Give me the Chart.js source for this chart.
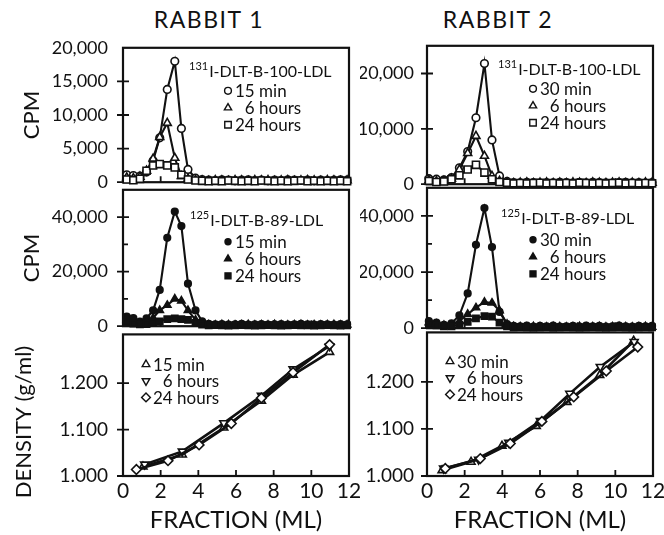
<!DOCTYPE html>
<html>
<head>
<meta charset="utf-8">
<title>Rabbit LDL density gradient</title>
<script src="https://cdn.jsdelivr.net/npm/chart.js@4.4.1/dist/chart.umd.min.js"></script>
<style>
  body { margin: 0; background: #fff; }
  #wrap { position: relative; width: 664px; height: 535px; overflow: hidden; font-family: Lato, sans-serif; color: #111; }
  #wrap canvas { position: absolute; }
  .rabbit { position: absolute; top: 5px; width: 140px; text-align: center; font-size: 23px; letter-spacing: 1.5px; }
</style>
</head>
<body>
<div id="wrap">
  <div class="rabbit" style="left:139px">RABBIT 1</div>
  <div class="rabbit" style="left:428px">RABBIT 2</div>
  <canvas id="r1top" width="360" height="170" style="left:0;top:30px"></canvas>
  <canvas id="r2top" width="304" height="170" style="left:360px;top:30px"></canvas>
  <canvas id="r1mid" width="360" height="172" style="left:0;top:172px"></canvas>
  <canvas id="r2mid" width="304" height="172" style="left:360px;top:172px"></canvas>
  <canvas id="r1bot" width="360" height="219" style="left:0;top:316px"></canvas>
  <canvas id="r2bot" width="304" height="219" style="left:360px;top:316px"></canvas>
</div>
<script>
// fraction (ml) of each collected tube
const FRAC_R1 = [0.2, 0.55, 0.9, 1.25, 1.6, 1.95, 2.35, 2.75, 3.1, 3.45, 3.85, 4.2, 4.55, 4.9, 5.25, 5.6, 5.95,
  6.3, 6.65, 7.0, 7.35, 7.7, 8.05, 8.4, 8.75, 9.1, 9.45, 9.8, 10.15, 10.5, 10.85, 11.2, 11.55, 11.9];
const FRAC_R2 = [0.1, 0.5, 0.9, 1.3, 1.72, 2.16, 2.6, 3.05, 3.45, 3.85, 4.25, 4.6, 4.95, 5.3, 5.65, 6.0, 6.35,
  6.7, 7.05, 7.4, 7.75, 8.1, 8.45, 8.8, 9.15, 9.5, 9.85, 10.2, 10.55, 10.9, 11.25, 11.6, 11.95];

// rabbit 1, 131I-DLT-B-100-LDL (cpm)
const R1_I131_15MIN = [1100, 1000, 900, 1500, 3200, 6600, 13800, 18000, 8000, 1900, 600, 400,
  300, 250, 350, 300, 200, 300, 350, 250, 300, 200, 300, 250, 350, 300, 250, 300, 200, 300, 250, 300, 350, 300];
const R1_I131_6H = [700, 600, 800, 1700, 3500, 6700, 8800, 3600, 900, 500, 300, 250,
  200, 300, 250, 200, 300, 250, 200, 300, 250, 300, 200, 250, 300, 200, 250, 300, 250, 200, 300, 250, 200, 250];
const R1_I131_24H = [400, 300, 500, 1700, 2500, 2700, 2500, 2200, 1100, 400, 250, 200,
  150, 200, 150, 250, 200, 150, 200, 150, 250, 200, 150, 200, 150, 200, 250, 150, 200, 150, 200, 150, 200, 150];

// rabbit 1, 125I-DLT-B-89-LDL (cpm)
const R1_I125_15MIN = [3500, 3000, 1700, 2900, 5800, 13300, 32400, 42000, 36700, 15600, 5800, 1800,
  900, 700, 800, 600, 700, 900, 600, 700, 800, 600, 700, 800, 600, 700, 900, 700, 600, 800, 700, 600, 800, 700];
const R1_I125_6H = [2500, 1500, 1000, 1500, 3000, 5800, 7700, 10000, 9300, 5800, 2300, 1000,
  500, 400, 600, 500, 400, 500, 600, 400, 500, 400, 600, 500, 400, 500, 600, 400, 500, 400, 500, 600, 400, 500];
const R1_I125_24H = [1500, 1000, 700, 800, 1200, 1800, 2600, 2900, 2600, 2300, 1200, 600,
  300, 400, 300, 200, 300, 400, 300, 200, 300, 400, 300, 200, 300, 400, 300, 300, 200, 300, 400, 300, 200, 300];

// rabbit 2, 131I-DLT-B-100-LDL (cpm)
const R2_I131_30MIN = [1000, 900, 800, 1200, 2950, 5900, 12000, 21800, 8000, 1500, 500,
  300, 250, 350, 300, 200, 300, 250, 350, 300, 200, 300, 250, 350, 300, 250, 200, 300, 350, 250, 300, 200, 300];
const R2_I131_6H = [700, 500, 600, 1000, 2650, 5600, 8700, 5100, 1500, 600, 300,
  200, 250, 300, 200, 250, 300, 200, 250, 200, 300, 250, 200, 300, 250, 200, 250, 300, 200, 250, 200, 300, 250];
const R2_I131_24H = [600, 400, 500, 900, 1600, 2650, 3500, 2100, 900, 400, 250,
  150, 200, 150, 200, 250, 150, 200, 150, 200, 150, 250, 200, 150, 200, 150, 200, 250, 150, 200, 150, 200, 150];

// rabbit 2, 125I-DLT-B-89-LDL (cpm)
const R2_I125_30MIN = [2500, 2000, 1200, 1700, 4600, 12400, 29700, 42800, 28900, 5800, 1500,
  800, 700, 900, 600, 800, 700, 900, 600, 700, 800, 600, 900, 700, 800, 600, 700, 900, 700, 600, 800, 700, 800];
const R2_I125_6H = [2000, 1500, 1000, 1000, 2500, 5000, 7300, 9300, 9000, 6300, 1500,
  600, 500, 400, 600, 500, 400, 600, 500, 400, 500, 600, 400, 500, 600, 400, 500, 600, 500, 400, 500, 600, 400];
const R2_I125_24H = [1500, 1000, 700, 700, 1200, 2300, 3500, 4300, 4100, 2000, 700,
  300, 400, 300, 200, 300, 400, 200, 300, 400, 300, 200, 300, 400, 300, 200, 300, 400, 300, 200, 300, 400, 300];

// density (g/ml) of the gradient
const R1_DENS_15MIN_X = [1.06, 3.15, 5.35, 7.35, 9.03, 10.97];
const R1_DENS_15MIN_Y = [1.020, 1.046, 1.104, 1.162, 1.218, 1.267];
const R1_DENS_6H_X = [1.15, 3.15, 5.35, 7.35, 9.03, 10.97];
const R1_DENS_6H_Y = [1.025, 1.053, 1.114, 1.173, 1.230, 1.280];
const R1_DENS_24H_X = [0.71, 2.39, 4.04, 5.75, 7.35, 9.03, 10.97];
const R1_DENS_24H_Y = [1.014, 1.033, 1.067, 1.113, 1.168, 1.223, 1.283];

const R2_DENS_30MIN_X = [0.8, 2.34, 3.98, 5.8, 7.43, 9.17, 10.97];
const R2_DENS_30MIN_Y = [1.012, 1.030, 1.064, 1.106, 1.157, 1.214, 1.287];
const R2_DENS_6H_X = [0.88, 2.74, 4.34, 6.02, 7.58, 9.2, 11.0];
const R2_DENS_6H_Y = [1.016, 1.035, 1.071, 1.117, 1.175, 1.232, 1.285];
const R2_DENS_24H_X = [0.97, 2.83, 4.42, 6.1, 7.79, 9.52, 11.19];
const R2_DENS_24H_Y = [1.016, 1.037, 1.069, 1.116, 1.168, 1.223, 1.274];

const X_TICKS = [2, 4, 6, 8, 10];
const INK = '#111';

Chart.defaults.font.family = 'Lato, sans-serif';
Chart.defaults.color = INK;

const COLS = {
  left: { yWidth: 123, padRight: 11 },
  right: { yWidth: 67, padRight: 11 }
};
const ROWS = {
  top: { padTop: 14, padBottom: 14 },
  mid: { padTop: 14, padBottom: 14 },
  bot: { padTop: 14, padBottom: 0, xHeight: 59 }
};

// marker look per point style
const MARKS = {
  circle: { pointStyle: 'circle', open: 3.8, filled: 3.3 },
  triangle: { pointStyle: 'triangle', open: 4.6, filled: 4.2 },
  rect: { pointStyle: 'rect', open: 5, filled: 4.4 },
  rectRot: { pointStyle: 'rectRot', open: 4.8, filled: 4.2 }
};

function series(xs, ys, mark, filled, rotation, lineWidth) {
  const m = MARKS[mark];
  return {
    data: xs.map((x, i) => ({ x: x, y: ys[i] })),
    showLine: true,
    borderColor: INK,
    borderWidth: lineWidth || 2.1,
    pointStyle: m.pointStyle,
    pointRadius: filled ? m.filled : m.open,
    pointRotation: rotation || 0,
    pointBackgroundColor: filled ? INK : '#fff',
    pointBorderColor: INK,
    pointBorderWidth: 1.6,
    clip: false
  };
}

// box around the plot and the tick marks
const framePlugin = {
  id: 'frame',
  beforeDatasetsDraw(chart, args, opts) {
    const { ctx, chartArea: a, scales: { x, y } } = chart;
    ctx.save();
    ctx.strokeStyle = INK;
    ctx.lineWidth = 2.2;
    ctx.strokeRect(a.left, a.top, a.right - a.left, a.bottom - a.top);
    ctx.lineWidth = 1.8;
    ctx.beginPath();
    y.ticks.forEach(t => {
      const py = y.getPixelForValue(t.value);
      if (py < a.top + 4) return;
      if (t.label !== '' && t.label != null) {
        ctx.moveTo(a.left - 6, py); ctx.lineTo(a.left + 6, py);
      } else if (opts.minor) {
        ctx.moveTo(a.left, py); ctx.lineTo(a.left + 5, py);
      }
    });
    X_TICKS.forEach(v => {
      const px = x.getPixelForValue(v);
      ctx.moveTo(px, a.bottom); ctx.lineTo(px, a.bottom - 6);
    });
    ctx.stroke();
    ctx.restore();
  }
};

function drawMarker(ctx, style, x, y, r, rot, filled) {
  ctx.fillStyle = filled ? INK : '#fff';
  ctx.strokeStyle = INK;
  ctx.lineWidth = 1.4;
  Chart.helpers.drawPoint(ctx, { pointStyle: style, radius: r, rotation: rot || 0, borderWidth: 1.4 }, x, y);
}

// isotope label + time legend drawn inside the plot
const panelLegend = {
  id: 'panelLegend',
  afterDraw(chart, args, opts) {
    const { ctx, chartArea: a } = chart;
    ctx.save();
    ctx.textAlign = 'left';
    if (opts.main) {
      const sx = a.left + opts.titleX, sy = a.top + opts.titleY;
      ctx.fillStyle = INK;
      ctx.textBaseline = 'alphabetic';
      ctx.font = '11px Lato';
      ctx.fillText(opts.sup, sx, sy - 7);
      const w = ctx.measureText(opts.sup).width;
      ctx.font = '16px Lato';
      ctx.fillText(opts.main, sx + w + 1, sy);
    }
    if (opts.items) {
      ctx.font = '17px Lato';
      const digit = ctx.measureText('0').width;
      opts.items.forEach((it, i) => {
        const mx = a.left + opts.markX, my = a.top + opts.markY + i * opts.rowGap;
        drawMarker(ctx, it.style, mx, my, it.r, it.rot, it.filled);
        ctx.fillStyle = INK;
        ctx.textBaseline = 'middle';
        ctx.fillText(it.text, mx + opts.textGap + (it.indent ? digit : 0), my + 1);
      });
    }
    if (opts.sideTitle) {
      ctx.fillStyle = INK;
      ctx.font = '22px Lato';
      ctx.textAlign = 'center';
      ctx.textBaseline = 'middle';
      ctx.translate(opts.sideTitle.x, opts.sideTitle.y);
      ctx.rotate(-Math.PI / 2);
      ctx.fillText(opts.sideTitle.text, 0, 0);
    }
    ctx.restore();
  }
};

const fmt = v => v.toLocaleString('en-US');

function panel(id, col, row, datasets, yOpts, legend) {
  const c = COLS[col], r = ROWS[row];
  const isBot = row === 'bot';
  return new Chart(document.getElementById(id), {
    type: 'scatter',
    data: { datasets: datasets },
    options: {
      responsive: false,
      animation: false,
      events: [],
      layout: { padding: { top: r.padTop, bottom: r.padBottom, left: 0, right: c.padRight } },
      plugins: {
        legend: { display: false }, tooltip: { enabled: false },
        panelLegend: legend, frame: { minor: !!yOpts.minor }
      },
      scales: {
        x: {
          type: 'linear', min: 0, max: 12, display: isBot,
          afterFit: s => { if (isBot) s.height = r.xHeight; },
          grid: { display: false }, border: { display: false },
          ticks: { stepSize: 2, padding: -5, autoSkip: false, maxRotation: 0, font: { size: 21 }, color: INK },
          title: { display: true, text: 'FRACTION (ML)', font: { size: 24 }, color: INK, padding: { top: 0, bottom: 0 } }
        },
        y: {
          type: 'linear', min: yOpts.min, max: yOpts.max,
          afterFit: s => { s.width = c.yWidth; },
          grid: { display: false }, border: { display: false },
          ticks: { stepSize: yOpts.step, autoSkip: false, padding: col === 'left' ? 7 : 5, font: { size: yOpts.fontSize || 18 }, color: INK, callback: yOpts.label },
          title: { display: !!yOpts.title, text: yOpts.title || '', font: { size: 22 }, color: INK, padding: { top: 19, bottom: 0 } }
        }
      }
    },
    plugins: [framePlugin, panelLegend]
  });
}

const cpmTopLegend = (t1, titleX) => ({
  sup: '131', main: 'I-DLT-B-100-LDL', titleX: titleX, titleY: 29,
  rowGap: 17, textGap: 7,
  items: [
    { style: 'circle', r: 3.4, text: t1 },
    { style: 'triangle', r: 4.2, text: '6 hours', indent: true },
    { style: 'rect', r: 4.6, text: '24 hours' }
  ]
});
const cpmMidLegend = (t1, titleX) => ({
  sup: '125', main: 'I-DLT-B-89-LDL', titleX: titleX, titleY: 36,
  rowGap: 17, textGap: 7,
  items: [
    { style: 'circle', r: 3, text: t1, filled: true },
    { style: 'triangle', r: 4, text: '6 hours', indent: true, filled: true },
    { style: 'rect', r: 4.2, text: '24 hours', filled: true }
  ]
});
const densLegend = t1 => ({
  rowGap: 16.5, textGap: 7,
  items: [
    { style: 'triangle', r: 4.4, text: t1 },
    { style: 'triangle', r: 4.4, rot: 180, text: '6 hours', indent: true },
    { style: 'rectRot', r: 4.4, text: '24 hours' }
  ]
});

// rabbit 1
panel('r1top', 'left', 'top', [
  series(FRAC_R1, R1_I131_24H, 'rect', false),
  series(FRAC_R1, R1_I131_6H, 'triangle', false),
  series(FRAC_R1, R1_I131_15MIN, 'circle', false)
], { min: 0, max: 20000, step: 5000, title: 'CPM', label: v => fmt(v) },
  Object.assign(cpmTopLegend('15 min', 66), { markX: 105, markY: 43 }));

panel('r1mid', 'left', 'mid', [
  series(FRAC_R1, R1_I125_24H, 'rect', true),
  series(FRAC_R1, R1_I125_6H, 'triangle', true),
  series(FRAC_R1, R1_I125_15MIN, 'circle', true)
], { min: 0, max: 50000, step: 10000, minor: true, title: 'CPM', label: v => (v % 20000 === 0 && v < 50000) ? fmt(v) : '' },
  Object.assign(cpmMidLegend('15 min', 67), { markX: 105, markY: 52 }));

panel('r1bot', 'left', 'bot', [
  series(R1_DENS_24H_X, R1_DENS_24H_Y, 'rectRot', false, 0, 2.6),
  series(R1_DENS_6H_X, R1_DENS_6H_Y, 'triangle', false, 180, 2.6),
  series(R1_DENS_15MIN_X, R1_DENS_15MIN_Y, 'triangle', false, 0, 2.6)
], { min: 1.0, max: 1.305, step: 0.1, fontSize: 19, label: v => v < 1.25 ? v.toFixed(3) : '' },
  Object.assign(densLegend('15 min'), { markX: 23, markY: 30, sideTitle: { text: 'DENSITY (g/ml)', x: 24, y: 106 } }));

// rabbit 2
panel('r2top', 'right', 'top', [
  series(FRAC_R2, R2_I131_24H, 'rect', false),
  series(FRAC_R2, R2_I131_6H, 'triangle', false),
  series(FRAC_R2, R2_I131_30MIN, 'circle', false)
], { min: 0, max: 25000, step: 5000, label: v => v % 10000 === 0 ? fmt(v) : '' },
  Object.assign(cpmTopLegend('30 min', 71), { markX: 106, markY: 43 }));

panel('r2mid', 'right', 'mid', [
  series(FRAC_R2, R2_I125_24H, 'rect', true),
  series(FRAC_R2, R2_I125_6H, 'triangle', true),
  series(FRAC_R2, R2_I125_30MIN, 'circle', true)
], { min: 0, max: 50000, step: 10000, minor: true, label: v => (v % 20000 === 0 && v < 50000) ? fmt(v) : '' },
  Object.assign(cpmMidLegend('30 min', 74), { markX: 106, markY: 52 }));

panel('r2bot', 'right', 'bot', [
  series(R2_DENS_24H_X, R2_DENS_24H_Y, 'rectRot', false, 0, 2.6),
  series(R2_DENS_6H_X, R2_DENS_6H_Y, 'triangle', false, 180, 2.6),
  series(R2_DENS_30MIN_X, R2_DENS_30MIN_Y, 'triangle', false, 0, 2.6)
], { min: 1.0, max: 1.305, step: 0.1, fontSize: 19, label: v => v < 1.25 ? v.toFixed(3) : '' },
  Object.assign(densLegend('30 min'), { markX: 23, markY: 29 }));
</script>
</body>
</html>
